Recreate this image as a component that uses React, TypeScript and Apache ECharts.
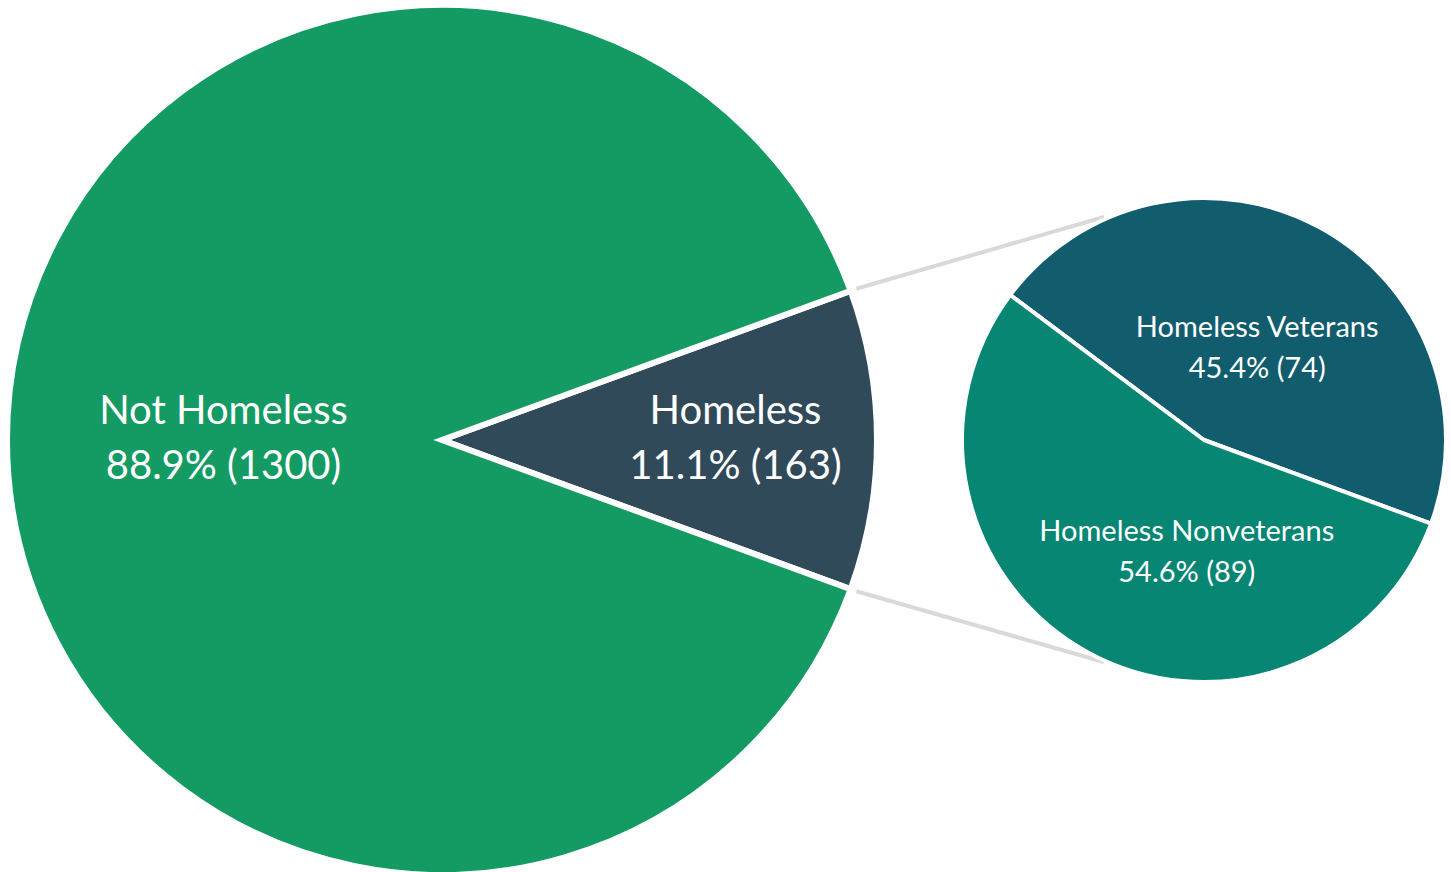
import React, { useEffect, useRef } from "react";
import * as echarts from "echarts";

const mainCategories = ["Homeless", "Not Homeless"];
const mainValues = [163, 1300];
const mainColors = ["#314a5a", "#149b63"];

const subCategories = ["Homeless Veterans", "Homeless Nonveterans"];
const subValues = [74, 89];
const subColors = ["#115c6d", "#068673"];

const W = 1451;
const H = 872;
const MAIN_C = [442, 440];
const MAIN_R = 435;
const SUB_C = [1204, 440];
const SUB_R = 242;

const FONT = "Lato, 'Noto Sans', sans-serif";

export default function App() {
  const ref = useRef<HTMLDivElement>(null);
  useEffect(() => {
    if (!ref.current) return;
    const chart = echarts.init(ref.current, undefined, { renderer: "svg" });
    const mainTotal = mainValues.reduce((a, b) => a + b, 0);
    const halfAngle = (mainValues[0] / mainTotal) * 180;
    const a = (halfAngle * Math.PI) / 180;
    const ex = MAIN_C[0] + (MAIN_R + 6) * Math.cos(a);
    const eyTop = MAIN_C[1] - (MAIN_R + 6) * Math.sin(a);
    const eyBot = MAIN_C[1] + (MAIN_R + 6) * Math.sin(a);
    const sx = SUB_C[0] - 100;
    const syTop = SUB_C[1] - 223;
    const syBot = SUB_C[1] + 222;

    chart.setOption({
      animation: false,
      backgroundColor: "#ffffff",
      graphic: [
        {
          type: "line",
          z: 0,
          shape: { x1: ex, y1: eyTop, x2: sx, y2: syTop },
          style: { stroke: "#d9d9d9", lineWidth: 4 },
        },
        {
          type: "line",
          z: 0,
          shape: { x1: ex, y1: eyBot, x2: sx, y2: syBot },
          style: { stroke: "#d9d9d9", lineWidth: 4 },
        },
      ],
      series: [
        {
          type: "pie",
          center: MAIN_C,
          radius: MAIN_R,
          startAngle: halfAngle,
          clockwise: true,
          percentPrecision: 1,
          z: 2,
          itemStyle: { borderColor: "#ffffff", borderWidth: 6, borderJoin: "miter" },
          label: {
            show: true,
            position: "inside",
            formatter: "{b}\n{d}% ({c})",
            color: "#ffffff",
            fontFamily: FONT,
            fontSize: 40,
            lineHeight: 55,
          },
          labelLayout: (p: any) => (p.dataIndex === 0 ? { dx: 73, dy: -4 } : { dx: 2, dy: -4 }),
          emphasis: { disabled: true },
          data: mainCategories.map((n, i) => ({
            name: n,
            value: mainValues[i],
            itemStyle: { color: mainColors[i] },
          })),
        },
        {
          type: "pie",
          center: SUB_C,
          radius: SUB_R,
          startAngle: 143.2,
          clockwise: true,
          percentPrecision: 1,
          z: 2,
          itemStyle: { borderColor: "#ffffff", borderWidth: 4 },
          label: {
            show: true,
            position: "inside",
            formatter: "{b}\n{d}% ({c})",
            color: "#ffffff",
            fontFamily: FONT,
            fontSize: 29,
            lineHeight: 41,
          },
          labelLayout: (p: any) =>
            p.dataIndex === 0 ? { dx: -6, dy: 15 } : { dx: 42, dy: 1 },
          emphasis: { disabled: true },
          data: subCategories.map((n, i) => ({
            name: n,
            value: subValues[i],
            itemStyle: { color: subColors[i] },
          })),
        },
      ],
    });
    return () => chart.dispose();
  }, []);
  return (
    <div
      ref={ref}
      style={{ position: "absolute", left: 0, top: 0, width: W, height: H }}
    />
  );
}
